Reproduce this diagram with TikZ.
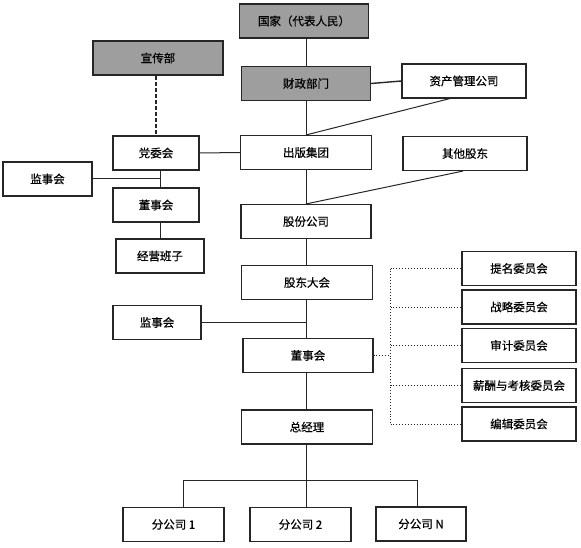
\documentclass[tikz,border=0pt]{standalone}
\usepackage{fontspec}
\newfontfamily\cjk[FakeBold=0.6]{Noto Sans CJK SC}
\colorlet{orgGray}{black!38}
\colorlet{orgLine}{black!85}

\begin{document}
\begin{tikzpicture}[x=1pt, y=-1pt,
    box/.style={draw=orgLine, line width=1.1pt, fill=white, inner sep=0pt,
      minimum height=34pt, font=\cjk\fontsize{11.5}{13}\selectfont},
    govbox/.style={box, fill=orgGray},
    link/.style={orgLine, line width=1pt},
    dotlink/.style={orgLine, line width=0.9pt, dotted}]
    \useasboundingbox (0,0) rectangle (581,548);
    \node[govbox, minimum width=129pt] (guojia)   at (304,21)   {国家（代表人民）};
    \node[govbox, minimum width=129pt] (caizheng) at (306,83.5) {财政部门};
    \node[govbox, minimum width=130pt] (xuanchuan) at (158,58)  {宣传部};
    \node[box, minimum width=124pt] (zichan) at (464,81)    {资产管理公司};
    \node[box, minimum width=86pt]  (dangwei) at (156,153)  {党委会};
    \node[box, minimum width=131pt] (chuban)  at (306,152.5) {出版集团};
    \node[box, minimum width=124pt] (qita)    at (465,153.5) {其他股东};
    \node[box, minimum width=89pt]  (jianshiA) at (47.5,179) {监事会};
    \node[box, minimum width=86pt]  (dongshiA) at (156,205)  {董事会};
    \node[box, minimum width=88pt]  (jingying) at (160,256)  {经营班子};
    \node[box, minimum width=130pt] (gufen)   at (306,221.5) {股份公司};
    \node[box, minimum width=131pt] (gudong)  at (307,282.5) {股东大会};
    \node[box, minimum width=88pt]  (jianshiB) at (157,322.5) {监事会};
    \node[box, minimum width=130pt] (dongshi) at (308,355.5) {董事会};
    \node[box, minimum width=131pt] (zongjl)  at (307,427)   {总经理};
    \node[box, minimum width=101pt] (fenA)    at (173.5,524.5) {分公司 1};
    \node[box, minimum width=101pt] (fenB)    at (300.5,524.5) {分公司 2};
    \node[box, minimum width=90pt]  (fenN)    at (421,524)     {分公司 N};
    \foreach \name/\y/\txt in {timing/268.5/提名委员会, zhanlue/307/战略委员会,
        shenji/345.5/审计委员会, xinchou/385.5/薪酬与考核委员会, bianji/424/编辑委员会}{%
      \node[box, minimum width=114pt] (\name) at (519,\y) {\txt};}
    \draw[link](guojia.south -| caizheng)--(caizheng.north);
    \draw[link, line width=1.4pt](caizheng.east)--(zichan.west);
    \draw[link](caizheng.south)--(chuban.north);
    \draw[link]([xshift=-14pt]zichan.south)--(chuban.north);
    \draw[link, line width=1.4pt, dash pattern=on 4pt off 2pt](xuanchuan.south -| dangwei)--(dangwei.north);
    \draw[link](dangwei.east)--(chuban.west);
    \coordinate (jA) at ([xshift=4pt]dangwei.south |- jianshiA.east);
    \draw[link]([xshift=4pt]dangwei.south)--([xshift=4pt]dongshiA.north);
    \draw[link](jianshiA.east)--(jA);
    \draw[link]([xshift=4pt]dongshiA.south)--([xshift=4pt]dongshiA.south |- jingying.north);
    \draw[link](chuban.south)--(gufen.north);
    \draw[link]([xshift=-2pt]qita.south)--(gufen.north);
    \draw[link](gufen.south)--(gufen.south |- gudong.north);
    \draw[link](gufen.south |- gudong.south)--(gufen.south |- dongshi.north);
    \draw[link](jianshiB.east)--(jianshiB.east -| gufen.south);
    \draw[link](gufen.south |- dongshi.south)--(gufen.south |- zongjl.north);
    \coordinate (bus) at ([xshift=17pt]dongshi.east);
    \draw[dotlink](dongshi.east)--(bus);
    \draw[dotlink](bus |- timing.west)--(bus |- bianji.west);
    \foreach \name in {timing, zhanlue, shenji, xinchou, bianji}{%
      \draw[dotlink](bus |- \name.west)--(\name.west);}
    \coordinate (split) at ([yshift=-36pt]gufen.south |- zongjl.south);
    \draw[link](gufen.south |- zongjl.south)--(split);
    \draw[link]([xshift=10pt]fenA.north) |- (split) -| ([xshift=-4pt]fenN.north);
    \draw[link](split)--(split |- fenB.north);
  \end{tikzpicture}
\end{document}
